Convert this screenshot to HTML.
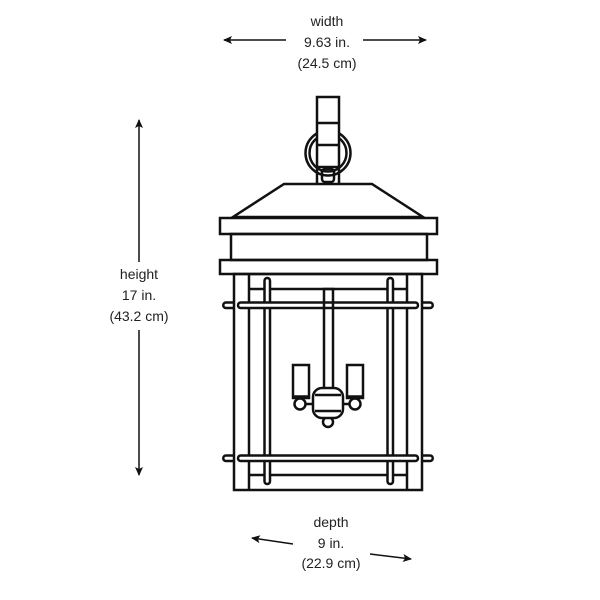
<!DOCTYPE html>
<html><head><style>
html,body{margin:0;padding:0;background:#fff;}
svg{display:block;}
text{font-family:"Liberation Sans",sans-serif;font-size:14px;fill:#222;text-anchor:middle;}
</style></head><body>
<svg width="600" height="600" viewBox="0 0 600 600" xmlns="http://www.w3.org/2000/svg">
<defs>
<marker id="ah" markerWidth="10" markerHeight="10" refX="8" refY="5" orient="auto" markerUnits="userSpaceOnUse">
<path d="M0,1 L9,5 L0,9 L2,5 Z" fill="#111"/>
</marker>
</defs>
<!-- width -->
<text x="327" y="26">width</text>
<text x="327" y="47">9.63 in.</text>
<text x="327" y="68">(24.5 cm)</text>
<line x1="286" y1="40" x2="224" y2="40" stroke="#111" stroke-width="1.5" marker-end="url(#ah)"/>
<line x1="363" y1="40" x2="426" y2="40" stroke="#111" stroke-width="1.5" marker-end="url(#ah)"/>
<!-- height -->
<text x="139" y="279">height</text>
<text x="139" y="300">17 in.</text>
<text x="139" y="321">(43.2 cm)</text>
<line x1="139" y1="262" x2="139" y2="120" stroke="#111" stroke-width="1.5" marker-end="url(#ah)"/>
<line x1="139" y1="330" x2="139" y2="475" stroke="#111" stroke-width="1.5" marker-end="url(#ah)"/>
<!-- depth -->
<text x="331" y="527">depth</text>
<text x="331" y="548">9 in.</text>
<text x="331" y="568">(22.9 cm)</text>
<line x1="293" y1="544" x2="252" y2="538" stroke="#111" stroke-width="1.5" marker-end="url(#ah)"/>
<line x1="370" y1="554" x2="411" y2="559" stroke="#111" stroke-width="1.5" marker-end="url(#ah)"/>

<g fill="none" stroke="#111" stroke-width="2.5">
<!-- ring -->
<circle cx="328" cy="153" r="22.5"/>
<circle cx="328" cy="153" r="18.5"/>
<!-- bracket -->
<rect x="317" y="97" width="22" height="70" fill="#fff"/>
<line x1="317" y1="123" x2="339" y2="123"/>
<line x1="317" y1="145" x2="339" y2="145"/>
<line x1="317" y1="167" x2="317" y2="184"/>
<line x1="339" y1="167" x2="339" y2="184"/>
<rect x="322" y="169" width="12" height="13" rx="3"/>
<!-- roof -->
<path d="M284,184 L372,184 L423,217 L233,217 Z"/>
<rect x="220" y="218" width="217" height="16"/>
<rect x="231" y="234" width="196" height="26"/>
<rect x="220" y="260" width="217" height="14"/>
<!-- cage -->
<rect x="234" y="274" width="188" height="216"/>
<line x1="249" y1="274" x2="249" y2="490"/>
<line x1="407" y1="274" x2="407" y2="490"/>
<line x1="249" y1="289" x2="407" y2="289"/>
<line x1="249" y1="475" x2="407" y2="475"/>
<rect x="264.5" y="278" width="5.5" height="206" rx="2.7" fill="#fff"/>
<rect x="387.5" y="278" width="5.5" height="206" rx="2.7" fill="#fff"/>
<rect x="238" y="302.5" width="180" height="5.5" rx="2.7" fill="#fff"/>
<rect x="238" y="455.5" width="180" height="5.5" rx="2.7" fill="#fff"/>
<path d="M234,302.5 H226 a2.7,2.7 0 0 0 0,5.5 H234"/>
<path d="M234,455.5 H226 a2.7,2.7 0 0 0 0,5.5 H234"/>
<path d="M422,302.5 H430 a2.7,2.7 0 0 1 0,5.5 H422"/>
<path d="M422,455.5 H430 a2.7,2.7 0 0 1 0,5.5 H422"/>
<!-- fixture -->
<rect x="324" y="289" width="9" height="101"/>
<rect x="293" y="365" width="16" height="33"/>
<rect x="347" y="365" width="16" height="33"/>
<line x1="292" y1="397" x2="310" y2="397" stroke-width="3.5"/>
<line x1="346" y1="397" x2="364" y2="397" stroke-width="3.5"/>
<circle cx="300" cy="404" r="5.5" fill="#fff"/>
<circle cx="355" cy="404" r="5.5" fill="#fff"/>
<line x1="305" y1="404" x2="313" y2="404"/>
<line x1="343" y1="404" x2="350" y2="404"/>
<circle cx="328" cy="422" r="5" fill="#fff"/>
<rect x="313" y="388" width="30" height="30" rx="9" fill="#fff"/>
<line x1="315" y1="395" x2="341" y2="395"/>
<line x1="315" y1="411" x2="341" y2="411"/>
</g>
</svg>
</body></html>
